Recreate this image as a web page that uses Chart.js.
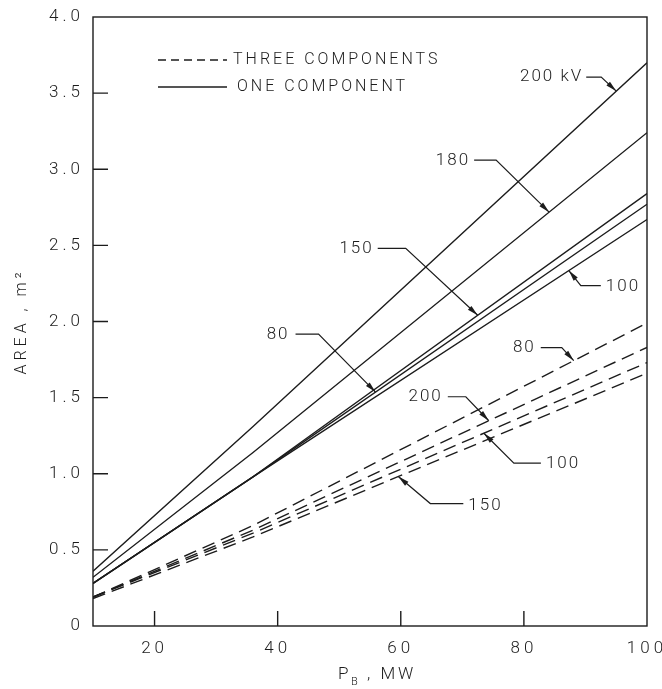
<!DOCTYPE html>
<html>
<head>
<meta charset="utf-8">
<script src="https://cdn.jsdelivr.net/npm/chart.js@4/dist/chart.umd.min.js"></script>
<style>
  body { margin: 0; background: #fff; }
  canvas { display: block; }
</style>
</head>
<body>
<canvas id="areaChart" width="662" height="689"></canvas>
<script>
// P_B, MW at which the curves were read
var pB = [10, 36, 100];

// one component (solid), area in m^2
var one200 = [0.36, 1.31, 3.70];
var one180 = [0.32, 1.14, 3.24];
var one150 = [0.28, 0.98, 2.84];
var one80 = [0.28, 0.98, 2.77];
var one100 = [0.28, 0.98, 2.67];

// three components (dashed)
var three80 = [0.19, 0.66, 1.99];
var three200 = [0.19, 0.63, 1.83];
var three100 = [0.19, 0.61, 1.73];
var three150 = [0.18, 0.585, 1.66];

var xTicks = [20, 40, 60, 80, 100];
var yTicks = [0, 0.5, 1.0, 1.5, 2.0, 2.5, 3.0, 3.5, 4.0];

var INK = '#1c1c1c';
var FONT = 'Roboto, "Liberation Sans", sans-serif';

var series = {
  one200: one200, one180: one180, one150: one150, one80: one80, one100: one100,
  three80: three80, three200: three200, three100: three100, three150: three150
};

function pts(ys) {
  return pB.map(function (x, i) { return { x: x, y: ys[i] }; });
}

function valueAt(ys, x) {
  for (var i = 0; i < pB.length - 1; i++) {
    if (x <= pB[i + 1]) {
      var t = (x - pB[i]) / (pB[i + 1] - pB[i]);
      return ys[i] + t * (ys[i + 1] - ys[i]);
    }
  }
  return ys[ys.length - 1];
}

// curve labels: leader goes text -> elbow -> arrow tip on the curve (offsets in px from tip)
var callouts = [
  { key: 'one200', x: 95, text: '200 kV', elbow: [-15, -14], start: [-30, -14], at: [-33, -14], align: 'right' },
  { key: 'one180', x: 84.1, text: '180', elbow: [-53, -52], start: [-75, -52], at: [-79, -51], align: 'right' },
  { key: 'one150', x: 72.5, text: '150', elbow: [-72, -67], start: [-100, -67], at: [-104, -67], align: 'right' },
  { key: 'one80', x: 55.9, text: '80', elbow: [-57, -58], start: [-80, -58], at: [-86, -57], align: 'right' },
  { key: 'one100', x: 87.3, text: '100', elbow: [12, 15], start: [32, 15], at: [37, 16], align: 'left' },
  { key: 'three80', x: 88.1, text: '80', elbow: [-12, -13], start: [-33, -13], at: [-38, -13], align: 'right' },
  { key: 'three200', x: 74.3, text: '200', elbow: [-23, -24], start: [-41, -24], at: [-46, -24], align: 'right' },
  { key: 'three100', x: 73.5, text: '100', elbow: [30, 30], start: [57, 30], at: [62, 31], align: 'left' },
  { key: 'three150', x: 59.6, text: '150', elbow: [32, 27], start: [65, 27], at: [70, 29], align: 'left' }
];

function solid(label, ys) {
  return { label: label, data: pts(ys), borderColor: INK, borderWidth: 1.4, pointRadius: 0, tension: 0 };
}
function dashed(label, ys) {
  return { label: label, data: pts(ys), borderColor: INK, borderWidth: 1.4, borderDash: [13, 7], pointRadius: 0, tension: 0 };
}

var decor = {
  id: 'decor',
  beforeDraw: function (chart) {
    chart.ctx.letterSpacing = '4px';
  },
  afterDraw: function (chart) {
    var ctx = chart.ctx;
    var a = chart.chartArea;
    var xs = chart.scales.x, ys = chart.scales.y;
    ctx.save();
    ctx.strokeStyle = INK;
    ctx.fillStyle = INK;
    ctx.lineWidth = 1.4;

    // frame
    ctx.strokeRect(a.left, a.top, a.right - a.left, a.bottom - a.top);

    // inward tick marks
    ctx.beginPath();
    yTicks.forEach(function (v) {
      if (v <= ys.min || v >= ys.max) return;
      var py = ys.getPixelForValue(v);
      ctx.moveTo(a.left, py);
      ctx.lineTo(a.left + 15, py);
    });
    xTicks.forEach(function (v) {
      if (v >= xs.max) return;
      var px = xs.getPixelForValue(v);
      ctx.moveTo(px, a.bottom);
      ctx.lineTo(px, a.bottom - 15);
    });
    ctx.stroke();

    // legend
    var lx = a.left + 65;
    ctx.font = '300 16px ' + FONT;
    ctx.letterSpacing = '3px';
    ctx.textBaseline = 'middle';
    ctx.textAlign = 'left';
    ctx.setLineDash([8, 5]);
    ctx.beginPath();
    ctx.moveTo(lx, a.top + 43);
    ctx.lineTo(lx + 69, a.top + 43);
    ctx.stroke();
    ctx.setLineDash([]);
    ctx.beginPath();
    ctx.moveTo(lx, a.top + 70);
    ctx.lineTo(lx + 69, a.top + 70);
    ctx.stroke();
    ctx.fillText('THREE COMPONENTS', lx + 75, a.top + 43);
    ctx.fillText('ONE COMPONENT', lx + 79, a.top + 70);

    // curve labels with leaders
    ctx.font = '300 17px ' + FONT;
    ctx.letterSpacing = '2px';
    ctx.lineWidth = 1.2;
    callouts.forEach(function (c) {
      var tx = xs.getPixelForValue(c.x);
      var ty = ys.getPixelForValue(valueAt(series[c.key], c.x));
      var ex = tx + c.elbow[0], ey = ty + c.elbow[1];
      ctx.beginPath();
      ctx.moveTo(tx + c.start[0], ty + c.start[1]);
      ctx.lineTo(ex, ey);
      ctx.lineTo(tx, ty);
      ctx.stroke();
      // arrowhead
      var ang = Math.atan2(ty - ey, tx - ex);
      var len = 11, half = 2.6;
      ctx.beginPath();
      ctx.moveTo(tx, ty);
      ctx.lineTo(tx - len * Math.cos(ang) + half * Math.sin(ang), ty - len * Math.sin(ang) - half * Math.cos(ang));
      ctx.lineTo(tx - len * Math.cos(ang) - half * Math.sin(ang), ty - len * Math.sin(ang) + half * Math.cos(ang));
      ctx.closePath();
      ctx.fill();
      ctx.textAlign = c.align;
      ctx.fillText(c.text, tx + c.at[0], ty + c.at[1]);
    });

    // x axis title with subscript
    ctx.textAlign = 'left';
    ctx.letterSpacing = '3px';
    var cx = (a.left + a.right) / 2;
    ctx.font = '300 17px ' + FONT;
    var x0 = cx - 32;
    ctx.fillText('P', x0, a.bottom + 49);
    ctx.font = '300 11px ' + FONT;
    ctx.fillText('B', x0 + 13, a.bottom + 56);
    ctx.font = '300 17px ' + FONT;
    ctx.fillText(', MW', x0 + 29, a.bottom + 49);

    ctx.restore();
  }
};

function noOverflow(s) {
  s.paddingLeft = 0;
  s.paddingRight = 0;
  s.paddingTop = 0;
  s.paddingBottom = 0;
}

var ctx = document.getElementById('areaChart').getContext('2d');
var chart = new Chart(ctx, {
  type: 'line',
  data: {
    datasets: [
      solid('200 kV', one200),
      solid('180', one180),
      solid('150', one150),
      solid('80', one80),
      solid('100', one100),
      dashed('80', three80),
      dashed('200', three200),
      dashed('100', three100),
      dashed('150', three150)
    ]
  },
  options: {
    responsive: false,
    animation: false,
    devicePixelRatio: 1,
    layout: { padding: { top: 17, right: 15, left: 0, bottom: 0 } },
    plugins: { legend: { display: false }, tooltip: { enabled: false } },
    scales: {
      x: {
        type: 'linear',
        min: 10,
        max: 100,
        afterBuildTicks: function (s) { s.ticks = xTicks.map(function (v) { return { value: v }; }); },
        afterFit: function (s) { s.height = 63; noOverflow(s); },
        grid: { display: false, drawTicks: false },
        border: { display: false },
        ticks: { color: INK, padding: 13, maxRotation: 0, font: { family: FONT, size: 17, weight: '300' } }
      },
      y: {
        type: 'linear',
        min: 0,
        max: 4,
        afterBuildTicks: function (s) { s.ticks = yTicks.map(function (v) { return { value: v }; }); },
        afterFit: function (s) { s.width = 93; noOverflow(s); },
        grid: { display: false, drawTicks: false },
        border: { display: false },
        ticks: {
          color: INK,
          padding: 9,
          font: { family: FONT, size: 17, weight: '300' },
          callback: function (v) { return v === 0 ? '0' : v.toFixed(1); }
        },
        title: {
          display: true,
          text: 'AREA , m²',
          color: INK,
          padding: 12,
          font: { family: FONT, size: 16, weight: '300' }
        }
      }
    }
  },
  plugins: [decor]
});
</script>
</body>
</html>
